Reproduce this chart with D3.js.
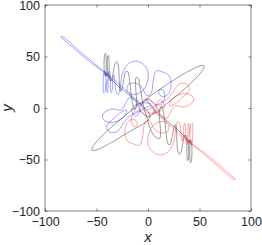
<!DOCTYPE html>
<html>
<head>
<meta charset="utf-8">
<script src="https://cdn.jsdelivr.net/npm/d3@7"></script>
<style>
  body { margin: 0; background: #fff; }
  text { font-family: "Liberation Sans", Arial, sans-serif; }
</style>
</head>
<body>
<svg width="262" height="245"></svg>
<script>
const ticks = [-100, -50, 0, 50, 100];

// points, [x, y]
const blackPath = [
  [4.8,-6.4],[31.4,14.9],[49.5,32.1],[53.7,37.8],[54.4,40.8],[51.3,41.1],[44.7,38.5],[23,25.9],[-4.8,6.4],
  [-31.4,-14.9],[-49.5,-32.1],[-53.7,-37.8],[-54.4,-40.8],[-51.3,-41.1],[-44.7,-38.5],[-23,-25.9],[2,-8.5],
  [-8,4],[-22,15.5],[-36,28],
  [-40,34],[-41.5,31],[-42.5,36],[-42,52],[-41.2,53],[-40.6,45],[-40.5,32],[-40,30.5],[-39.5,33],[-39.2,50],
  [-38.5,51],[-37.8,44],[-37.5,30],
  [-36,26],[-34,33],[-32,43],[-30.5,45],[-29,42],[-28,30],[-27.5,20],[-26.5,16],[-25,20],[-23,30],[-21.5,35.5],
  [-19.5,35],[-18,28],[-16,10],[-13,-2],[-11,4],[-12,20],[-11.5,29.5],[-9.5,29],[-8,22],
  [-5,5],[-1,-10],[3,-22],[7,-28],[10,-29.5],
  [11.5,-29.5],[12,-20],[11,-4],[13,2],[16,-10],[18,-28],[19.5,-35],[21.5,-35.5],[23,-30],[25,-20],
  [26.5,-16],[27.5,-20],[28,-30],[29,-42],[30.5,-45],[32,-43],[34,-33],[36,-26],
  [37.5,-30],[37.8,-44],[38.5,-51],[39.2,-50],[39.5,-33],[40,-30.5],[40.5,-32],[40.6,-45],[41.2,-53],[42,-52],
  [42.5,-36],[41.5,-31],[40,-34],
  [36,-28],[22,-15.5],[8,-4],[-2,8.5]
];

const bluePath = [
  [-6,3],[-30,24.8],[-58,48],[-84,69.5],[-84.5,68.6],[-82,66.5],[-58,46],[-38,29.5],
  [-40,26],[-41.5,17],[-43,15],[-43.5,22],[-43,34],[-42,36],[-41,30],[-40.5,18],[-39.5,15],[-38.8,20],
  [-38.5,34],[-37.5,35.5],[-36.5,28],[-36.5,18],[-35.5,15],[-34.5,19],[-34,31],[-33,32],[-32,24],[-31,16],
  [-29,13],[-27,20],[-25,33],[-20,42],[-13,45.5],[-5,43],[0,35],[-1,24],[-6,16],[-14,13],[-20,16],[-19,23],
  [-12,24],[-6,20],[-1,12],[3,14],
  [5,26],[8,36],[14,35],[20,32],[22.5,23],[20,14],[15,11],[11,13],[11,18],[15,17],[16,9],[13,4],[8,3],[3,7],
  [0,9],[-4,6],[-8,0],[-4,-6],[2,-8],[6,-2],[2,4],[-5,5],[-12,3],[-16,-2],[-12,-8],[-8,-3],[-12,6],[-18,10],[-22,4],
  [-26,-2],[-35,-1],[-43,-5],[-44,-10],[-38,-14],[-28,-12],[-22,-7],[-21,-2],[-26,-4],[-33,-10],[-40,-17],
  [-38,-23],[-30,-23],[-24,-15],[-18,-8],[-10,-4],[-3,0],[2,2]
];

const redPath = [
  [6,-3],[30,-24.8],[58,-48],[84,-69.5],[84.5,-68.6],[82,-66.5],[58,-46],[38,-29.5],
  [40,-26],[41.5,-17],[43,-15],[43.5,-22],[43,-34],[42,-36],[41,-30],[40.5,-18],[39.5,-15],[38.8,-20],
  [38.5,-34],[37.5,-35.5],[36.5,-28],[36.5,-18],[35.5,-15],[34.5,-19],[34,-31],[33,-32],[32,-24],[31,-16],
  [29,-13],[27,-20],[25,-33],[20,-42],[13,-45.5],[5,-43],[0,-35],[1,-24],[6,-16],[14,-13],[20,-16],[19,-23],
  [12,-24],[6,-20],[1,-12],[-3,-14],
  [-5,-26],[-8,-36],[-14,-35],[-20,-32],[-22.5,-23],[-20,-14],[-15,-11],[-11,-13],[-11,-18],[-15,-17],[-16,-9],
  [-13,-4],[-8,-3],[-3,-7],
  [0,-9],[4,-6],[8,0],[4,6],[-2,8],[-6,2],[-2,-4],[5,-5],[12,-3],[16,2],[12,8],[8,3],[12,-6],[18,-10],[22,-4],
  [26,2],[35,1],[43,5],[44,10],[38,14],[28,12],[22,7],[21,2],[26,4],[33,10],[40,17],
  [38,23],[30,23],[24,15],[18,8],[10,4],[3,0],[-2,-2]
];

const svg = d3.select("svg");
const mLeft = 45, mRight = 251, mTop = 5, mBottom = 211;

const x = d3.scaleLinear().domain([-100, 100]).range([mLeft, mRight]);
const y = d3.scaleLinear().domain([-100, 100]).range([mBottom, mTop]);

const line = d3.line()
  .x(d => x(d[0]))
  .y(d => y(d[1]))
  .curve(d3.curveCatmullRom.alpha(0.5));

const plot = svg.append("g");

plot.append("path").datum(blackPath)
  .attr("fill", "none").attr("stroke", "#000").attr("stroke-opacity", 0.65)
  .attr("stroke-width", 0.6).attr("d", line);
plot.append("path").datum(bluePath)
  .attr("fill", "none").attr("stroke", "#0000ff").attr("stroke-opacity", 0.6)
  .attr("stroke-width", 0.6).attr("d", line);
plot.append("path").datum(redPath)
  .attr("fill", "none").attr("stroke", "#ff0000").attr("stroke-opacity", 0.6)
  .attr("stroke-width", 0.6).attr("d", line);

// axes, ticks pointing inward
const axisColor = "#262626";
function style(g) {
  g.select(".domain").remove();
  g.selectAll(".tick line").attr("stroke", axisColor).attr("stroke-width", 0.6);
  g.selectAll(".tick text").attr("fill", axisColor).attr("font-size", 12.5)
    .attr("font-family", "Liberation Sans, Arial, sans-serif");
}

svg.append("g").attr("transform", `translate(0,${mBottom})`)
  .call(d3.axisBottom(x).tickValues(ticks).tickSize(-2.5).tickPadding(6))
  .call(style);
svg.append("g").attr("transform", `translate(${mLeft},0)`)
  .call(d3.axisLeft(y).tickValues(ticks).tickSize(-2.5).tickPadding(5))
  .call(style);
svg.append("g").attr("transform", `translate(0,${mTop})`)
  .call(d3.axisTop(x).tickValues(ticks).tickSize(-2.5).tickFormat(""))
  .call(style);
svg.append("g").attr("transform", `translate(${mRight},0)`)
  .call(d3.axisRight(y).tickValues(ticks).tickSize(-2.5).tickFormat(""))
  .call(style);

svg.append("rect")
  .attr("x", mLeft).attr("y", mTop)
  .attr("width", mRight - mLeft).attr("height", mBottom - mTop)
  .attr("fill", "none").attr("stroke", axisColor).attr("stroke-width", 0.6);

svg.append("text")
  .attr("x", (mLeft + mRight) / 2).attr("y", 242)
  .attr("text-anchor", "middle")
  .attr("font-family", "Liberation Serif, Times New Roman, serif")
  .attr("font-style", "italic").attr("font-size", 15)
  .attr("fill", axisColor)
  .text("x");

svg.append("text")
  .attr("transform", `translate(12,${(mTop + mBottom) / 2}) rotate(-90)`)
  .attr("text-anchor", "middle")
  .attr("font-family", "Liberation Serif, Times New Roman, serif")
  .attr("font-style", "italic").attr("font-size", 15)
  .attr("fill", axisColor)
  .text("y");
</script>
</body>
</html>
